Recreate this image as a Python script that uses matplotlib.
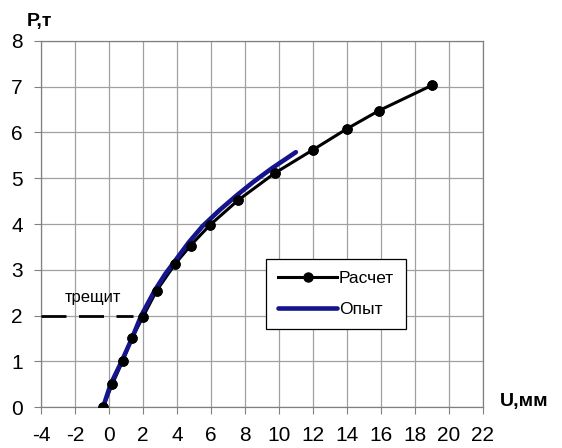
import matplotlib.pyplot as plt

plt.rcParams['font.family'] = ['Liberation Sans', 'DejaVu Sans']
plt.rcParams['axes.unicode_minus'] = False

# Расчет (calculated)
calc_u = [-0.35, 0.2, 0.8, 1.35, 2.0, 2.8, 3.9, 4.8, 5.95, 7.6, 9.75, 12.0, 14.0, 15.9, 19.0]
calc_p = [0.0, 0.5, 1.0, 1.5, 1.97, 2.54, 3.13, 3.53, 3.98, 4.52, 5.11, 5.62, 6.08, 6.48, 7.03]

# Опыт (experiment)
exp_u = [-0.3, 0.1, 0.75, 1.35, 1.9, 2.7, 3.3, 3.9, 4.7, 5.5, 6.5, 7.5, 8.5, 9.6, 10.4, 11.0]
exp_p = [0.05, 0.5, 1.0, 1.5, 2.0, 2.55, 2.9, 3.2, 3.6, 3.95, 4.3, 4.62, 4.92, 5.22, 5.42, 5.57]

# crack level
crack_u = [-4, 1.4]
crack_p = [2, 2]

x_ticks = list(range(-4, 23, 2))
y_ticks = list(range(0, 9))

fig = plt.figure(figsize=(5.62, 4.48), dpi=100)
ax = fig.add_axes([0.073, 0.0915, 0.786, 0.817])

ax.plot(calc_u, calc_p, color='black', lw=2.2, zorder=3,
        marker='o', markersize=6.5, label='Расчет')
ax.plot(exp_u, exp_p, color='#14148c', lw=3.3, zorder=4,
        solid_capstyle='round', solid_joinstyle='round', label='Опыт')
# markers on top of the blue line
ax.plot(calc_u, calc_p, ls='none', marker='o', markersize=6.5,
        color='black', zorder=5)
ax.plot(crack_u, crack_p, color='black', lw=2, dashes=(9, 4.5), zorder=3)
ax.text(-0.95, 2.4, 'трещит', fontsize=12, ha='center', va='center')

ax.set_xlim(-4, 22)
ax.set_ylim(0, 8)
ax.set_xticks(x_ticks)
ax.set_yticks(y_ticks)
ax.tick_params(axis='both', labelsize=15, direction='out', length=5,
               color='#808080')
ax.tick_params(axis='x', pad=9)
ax.tick_params(axis='y', pad=8)
ax.grid(True, color='#a0a0a0', lw=0.9)
ax.set_axisbelow(True)
for s in ax.spines.values():
    s.set_color('#808080')
    s.set_linewidth(0.9)

ax.text(-0.032, 1.052, 'P,т', transform=ax.transAxes, fontsize=14,
        fontweight='bold', ha='left', va='center')
ax.text(1.038, 0.014, 'U,мм', transform=ax.transAxes, fontsize=14,
        fontweight='bold', ha='left', va='center')

leg = ax.legend(loc='upper left', bbox_to_anchor=(0.509, 0.404),
                borderaxespad=0, fontsize=12.5, handlelength=3.4,
                handletextpad=0.1, labelspacing=0.9, fancybox=False,
                framealpha=1, edgecolor='black', borderpad=0.7)
leg.get_frame().set_linewidth(0.9)

fig.savefig('out.png', dpi=100)
